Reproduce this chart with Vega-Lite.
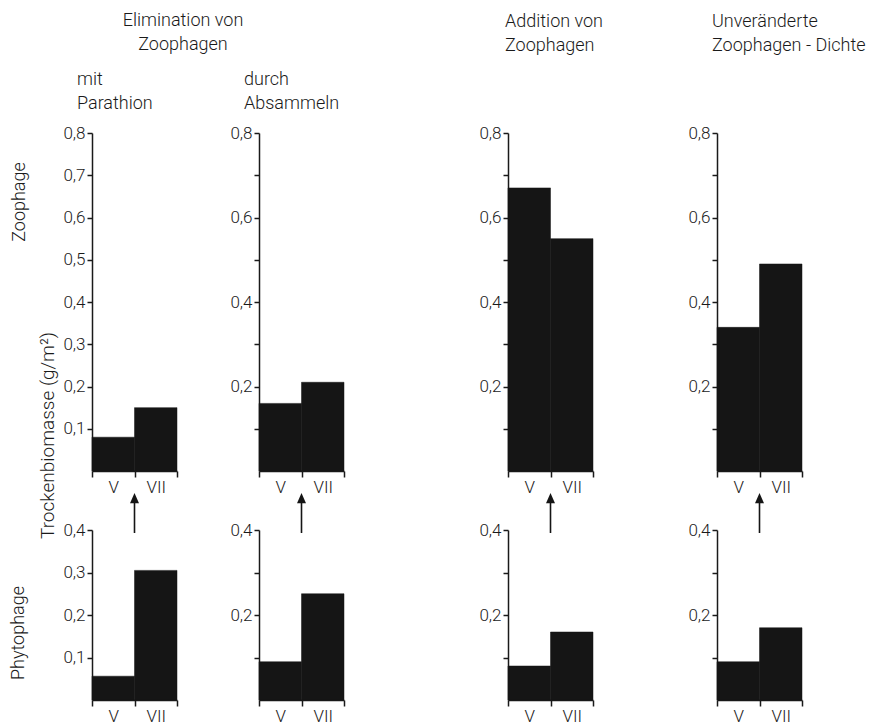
{
  "$schema": "https://vega.github.io/schema/vega-lite/v6.json",
  "padding": {"left": 9, "top": 12, "right": 5, "bottom": 5},
  "datasets": {
    "bio": [
      {"exp": "Parathion", "level": "Zoophage", "month": "V", "value": 0.08},
      {"exp": "Parathion", "level": "Zoophage", "month": "VII", "value": 0.15},
      {"exp": "Parathion", "level": "Phytophage", "month": "V", "value": 0.056},
      {"exp": "Parathion", "level": "Phytophage", "month": "VII", "value": 0.305},
      {"exp": "Absammeln", "level": "Zoophage", "month": "V", "value": 0.16},
      {"exp": "Absammeln", "level": "Zoophage", "month": "VII", "value": 0.21},
      {"exp": "Absammeln", "level": "Phytophage", "month": "V", "value": 0.09},
      {"exp": "Absammeln", "level": "Phytophage", "month": "VII", "value": 0.25},
      {"exp": "Addition", "level": "Zoophage", "month": "V", "value": 0.67},
      {"exp": "Addition", "level": "Zoophage", "month": "VII", "value": 0.55},
      {"exp": "Addition", "level": "Phytophage", "month": "V", "value": 0.08},
      {"exp": "Addition", "level": "Phytophage", "month": "VII", "value": 0.16},
      {"exp": "Unveraendert", "level": "Zoophage", "month": "V", "value": 0.34},
      {"exp": "Unveraendert", "level": "Zoophage", "month": "VII", "value": 0.49},
      {"exp": "Unveraendert", "level": "Phytophage", "month": "V", "value": 0.09},
      {"exp": "Unveraendert", "level": "Phytophage", "month": "VII", "value": 0.17}
    ]
  },
  "bounds": "flush",
  "spacing": 416,
  "hconcat": [
    {
      "title": {"text": ["Elimination von", "Zoophagen"], "anchor": "start", "align": "center", "dx": 91, "frame": "group", "offset": 17},
      "bounds": "flush",
      "spacing": 167,
      "hconcat": [
        {
          "title": {"text": ["mit", "Parathion"], "anchor": "start", "align": "left", "dx": -15, "frame": "group", "offset": 11},
          "bounds": "flush",
          "spacing": 59,
          "vconcat": [
            {
              "width": 85, "height": 338,
              "title": {"text": "Zoophage", "orient": "left", "anchor": "middle", "offset": 10, "dx": 100},
              "data": {"name": "bio"},
              "transform": [{"filter": "datum.exp == 'Parathion' && datum.level == 'Zoophage'"}],
              "mark": {"type": "bar", "color": "#151515", "stroke": "#151515", "strokeWidth": 0.5},
              "encoding": {
                "x": {"field": "month", "type": "ordinal", "sort": ["V", "VII"], "scale": {"paddingInner": 0, "paddingOuter": 0},
                  "axis": {"title": null, "labelAngle": 0, "tickBand": "extent", "tickSize": 6, "labelPadding": 2}},
                "y": {"field": "value", "type": "quantitative", "scale": {"domain": [0, 0.8], "nice": false},
                  "axis": {"title": "Trockenbiomasse  (g/m²)", "titleY": 302, "titlePadding": 5, "values": [0.1, 0.2, 0.3, 0.4, 0.5, 0.6, 0.7, 0.8], "labelExpr": "replace(format(datum.value,'.1f'),'.',',')", "tickSize": 5, "labelPadding": 2}}
              }
            },
            {
              "width": 85, "height": 170,
              "title": {"text": "Phytophage", "orient": "left", "anchor": "middle", "offset": 35, "dx": -18},
              "layer": [
                {
                  "data": {"name": "bio"},
                  "transform": [{"filter": "datum.exp == 'Parathion' && datum.level == 'Phytophage'"}],
                  "mark": {"type": "bar", "color": "#151515", "stroke": "#151515", "strokeWidth": 0.5},
                  "encoding": {
                    "x": {"field": "month", "type": "ordinal", "sort": ["V", "VII"], "scale": {"paddingInner": 0, "paddingOuter": 0},
                      "axis": {"title": null, "labelAngle": 0, "tickBand": "extent", "tickSize": 6, "labelPadding": 2}},
                    "y": {"field": "value", "type": "quantitative", "scale": {"domain": [0, 0.4], "nice": false},
                      "axis": {"title": null, "values": [0.1, 0.2, 0.3, 0.4], "labelExpr": "replace(format(datum.value,'.1f'),'.',',')", "tickSize": 5, "labelPadding": 2}}
                  }
                },
                {
                  "data": {"values": [{}]},
                  "mark": {"type": "rule", "color": "#151515", "strokeWidth": 1.6},
                  "encoding": {"x": {"datum": "VII", "type": "ordinal", "bandPosition": 0}, "y": {"datum": 0.393, "type": "quantitative"}, "y2": {"datum": 0.47}}
                },
                {
                  "data": {"values": [{}]},
                  "mark": {"type": "point", "shape": "M0,-1L0.86,1L-0.86,1Z", "filled": true, "color": "#151515", "size": 110, "opacity": 1},
                  "encoding": {"x": {"datum": "VII", "type": "ordinal", "bandPosition": 0}, "y": {"datum": 0.475, "type": "quantitative"}}
                }
              ]
            }
          ]
        },
        {
          "title": {"text": ["durch", "Absammeln"], "anchor": "start", "align": "left", "dx": -15, "frame": "group", "offset": 11},
          "bounds": "flush",
          "spacing": 59,
          "vconcat": [
            {
              "width": 85, "height": 338,
              "data": {"name": "bio"},
              "transform": [{"filter": "datum.exp == 'Absammeln' && datum.level == 'Zoophage'"}],
              "mark": {"type": "bar", "color": "#151515", "stroke": "#151515", "strokeWidth": 0.5},
              "encoding": {
                "x": {"field": "month", "type": "ordinal", "sort": ["V", "VII"], "scale": {"paddingInner": 0, "paddingOuter": 0},
                  "axis": {"title": null, "labelAngle": 0, "tickBand": "extent", "tickSize": 6, "labelPadding": 2}},
                "y": {"field": "value", "type": "quantitative", "scale": {"domain": [0, 0.8], "nice": false},
                  "axis": {"title": null, "values": [0.1, 0.2, 0.3, 0.4, 0.5, 0.6, 0.7, 0.8], "labelExpr": "round(datum.value*10) % 2 == 0 ? replace(format(datum.value,'.1f'),'.',',') : ''", "tickSize": 5, "labelPadding": 2}}
              }
            },
            {
              "width": 85, "height": 170,
              "layer": [
                {
                  "data": {"name": "bio"},
                  "transform": [{"filter": "datum.exp == 'Absammeln' && datum.level == 'Phytophage'"}],
                  "mark": {"type": "bar", "color": "#151515", "stroke": "#151515", "strokeWidth": 0.5},
                  "encoding": {
                    "x": {"field": "month", "type": "ordinal", "sort": ["V", "VII"], "scale": {"paddingInner": 0, "paddingOuter": 0},
                      "axis": {"title": null, "labelAngle": 0, "tickBand": "extent", "tickSize": 6, "labelPadding": 2}},
                    "y": {"field": "value", "type": "quantitative", "scale": {"domain": [0, 0.4], "nice": false},
                      "axis": {"title": null, "values": [0.1, 0.2, 0.3, 0.4], "labelExpr": "round(datum.value*10) % 2 == 0 ? replace(format(datum.value,'.1f'),'.',',') : ''", "tickSize": 5, "labelPadding": 2}}
                  }
                },
                {
                  "data": {"values": [{}]},
                  "mark": {"type": "rule", "color": "#151515", "strokeWidth": 1.6},
                  "encoding": {"x": {"datum": "VII", "type": "ordinal", "bandPosition": 0}, "y": {"datum": 0.393, "type": "quantitative"}, "y2": {"datum": 0.47}}
                },
                {
                  "data": {"values": [{}]},
                  "mark": {"type": "point", "shape": "M0,-1L0.86,1L-0.86,1Z", "filled": true, "color": "#151515", "size": 110, "opacity": 1},
                  "encoding": {"x": {"datum": "VII", "type": "ordinal", "bandPosition": 0}, "y": {"datum": 0.475, "type": "quantitative"}}
                }
              ]
            }
          ]
        }
      ]
    },
    {
      "bounds": "flush",
      "spacing": 209,
      "hconcat": [
        {
          "title": {"text": ["Addition von", "Zoophagen"], "anchor": "start", "align": "left", "dx": -3, "frame": "group", "offset": 69},
          "bounds": "flush",
          "spacing": 59,
          "vconcat": [
            {
              "width": 85, "height": 338,
              "data": {"name": "bio"},
              "transform": [{"filter": "datum.exp == 'Addition' && datum.level == 'Zoophage'"}],
              "mark": {"type": "bar", "color": "#151515", "stroke": "#151515", "strokeWidth": 0.5},
              "encoding": {
                "x": {"field": "month", "type": "ordinal", "sort": ["V", "VII"], "scale": {"paddingInner": 0, "paddingOuter": 0},
                  "axis": {"title": null, "labelAngle": 0, "tickBand": "extent", "tickSize": 6, "labelPadding": 2}},
                "y": {"field": "value", "type": "quantitative", "scale": {"domain": [0, 0.8], "nice": false},
                  "axis": {"title": null, "values": [0.1, 0.2, 0.3, 0.4, 0.5, 0.6, 0.7, 0.8], "labelExpr": "round(datum.value*10) % 2 == 0 ? replace(format(datum.value,'.1f'),'.',',') : ''", "tickSize": 5, "labelPadding": 2}}
              }
            },
            {
              "width": 85, "height": 170,
              "layer": [
                {
                  "data": {"name": "bio"},
                  "transform": [{"filter": "datum.exp == 'Addition' && datum.level == 'Phytophage'"}],
                  "mark": {"type": "bar", "color": "#151515", "stroke": "#151515", "strokeWidth": 0.5},
                  "encoding": {
                    "x": {"field": "month", "type": "ordinal", "sort": ["V", "VII"], "scale": {"paddingInner": 0, "paddingOuter": 0},
                      "axis": {"title": null, "labelAngle": 0, "tickBand": "extent", "tickSize": 6, "labelPadding": 2}},
                    "y": {"field": "value", "type": "quantitative", "scale": {"domain": [0, 0.4], "nice": false},
                      "axis": {"title": null, "values": [0.1, 0.2, 0.3, 0.4], "labelExpr": "round(datum.value*10) % 2 == 0 ? replace(format(datum.value,'.1f'),'.',',') : ''", "tickSize": 5, "labelPadding": 2}}
                  }
                },
                {
                  "data": {"values": [{}]},
                  "mark": {"type": "rule", "color": "#151515", "strokeWidth": 1.6},
                  "encoding": {"x": {"datum": "VII", "type": "ordinal", "bandPosition": 0}, "y": {"datum": 0.393, "type": "quantitative"}, "y2": {"datum": 0.47}}
                },
                {
                  "data": {"values": [{}]},
                  "mark": {"type": "point", "shape": "M0,-1L0.86,1L-0.86,1Z", "filled": true, "color": "#151515", "size": 110, "opacity": 1},
                  "encoding": {"x": {"datum": "VII", "type": "ordinal", "bandPosition": 0}, "y": {"datum": 0.475, "type": "quantitative"}}
                }
              ]
            }
          ]
        },
        {
          "title": {"text": ["Unveränderte", "Zoophagen - Dichte"], "anchor": "start", "align": "left", "dx": -5, "frame": "group", "offset": 69},
          "bounds": "flush",
          "spacing": 59,
          "vconcat": [
            {
              "width": 85, "height": 338,
              "data": {"name": "bio"},
              "transform": [{"filter": "datum.exp == 'Unveraendert' && datum.level == 'Zoophage'"}],
              "mark": {"type": "bar", "color": "#151515", "stroke": "#151515", "strokeWidth": 0.5},
              "encoding": {
                "x": {"field": "month", "type": "ordinal", "sort": ["V", "VII"], "scale": {"paddingInner": 0, "paddingOuter": 0},
                  "axis": {"title": null, "labelAngle": 0, "tickBand": "extent", "tickSize": 6, "labelPadding": 2}},
                "y": {"field": "value", "type": "quantitative", "scale": {"domain": [0, 0.8], "nice": false},
                  "axis": {"title": null, "values": [0.1, 0.2, 0.3, 0.4, 0.5, 0.6, 0.7, 0.8], "labelExpr": "round(datum.value*10) % 2 == 0 ? replace(format(datum.value,'.1f'),'.',',') : ''", "tickSize": 5, "labelPadding": 2}}
              }
            },
            {
              "width": 85, "height": 170,
              "layer": [
                {
                  "data": {"name": "bio"},
                  "transform": [{"filter": "datum.exp == 'Unveraendert' && datum.level == 'Phytophage'"}],
                  "mark": {"type": "bar", "color": "#151515", "stroke": "#151515", "strokeWidth": 0.5},
                  "encoding": {
                    "x": {"field": "month", "type": "ordinal", "sort": ["V", "VII"], "scale": {"paddingInner": 0, "paddingOuter": 0},
                      "axis": {"title": null, "labelAngle": 0, "tickBand": "extent", "tickSize": 6, "labelPadding": 2}},
                    "y": {"field": "value", "type": "quantitative", "scale": {"domain": [0, 0.4], "nice": false},
                      "axis": {"title": null, "values": [0.1, 0.2, 0.3, 0.4], "labelExpr": "round(datum.value*10) % 2 == 0 ? replace(format(datum.value,'.1f'),'.',',') : ''", "tickSize": 5, "labelPadding": 2}}
                  }
                },
                {
                  "data": {"values": [{}]},
                  "mark": {"type": "rule", "color": "#151515", "strokeWidth": 1.6},
                  "encoding": {"x": {"datum": "VII", "type": "ordinal", "bandPosition": 0}, "y": {"datum": 0.393, "type": "quantitative"}, "y2": {"datum": 0.47}}
                },
                {
                  "data": {"values": [{}]},
                  "mark": {"type": "point", "shape": "M0,-1L0.86,1L-0.86,1Z", "filled": true, "color": "#151515", "size": 110, "opacity": 1},
                  "encoding": {"x": {"datum": "VII", "type": "ordinal", "bandPosition": 0}, "y": {"datum": 0.475, "type": "quantitative"}}
                }
              ]
            }
          ]
        }
      ]
    }
  ],
  "config": {
    "font": "Roboto",
    "view": {"stroke": null},
    "axis": {
      "domainColor": "#1a1a1a", "tickColor": "#1a1a1a", "labelColor": "#1a1a1a", "titleColor": "#1a1a1a",
      "domainWidth": 1.5, "tickWidth": 1.5, "labelFontSize": 17, "titleFontSize": 19, "titleFontWeight": 300, "labelFontWeight": 300,
      "grid": false, "labelFont": "Roboto", "titleFont": "Roboto"
    },
    "title": {"fontSize": 18, "fontWeight": 300, "color": "#1a1a1a", "lineHeight": 24, "font": "Roboto"}
  }
}
